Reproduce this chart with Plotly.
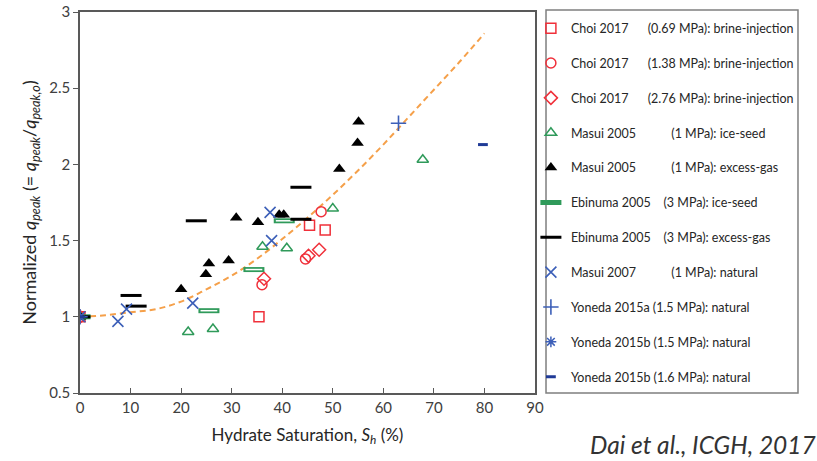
import plotly.graph_objects as go

# ---- data ----
curve_x = [0, 5, 10, 15, 20, 25, 30, 35, 40, 45, 50, 55, 60, 65, 70, 75, 80]
curve_y = [1.00, 1.01, 1.03, 1.05, 1.10, 1.18, 1.27, 1.38, 1.51, 1.65, 1.80, 1.96, 2.13, 2.31, 2.49, 2.67, 2.86]

choi069_x = [0, 35.4, 45.4, 48.5]
choi069_y = [1.0, 1.00, 1.60, 1.57]
choi138_x = [0, 36.0, 44.6, 47.7]
choi138_y = [1.0, 1.21, 1.38, 1.69]
choi276_x = [0, 36.4, 45.2, 47.3]
choi276_y = [1.0, 1.25, 1.40, 1.44]
masui05i_x = [0, 21.4, 26.3, 36.1, 40.9, 50.0, 67.8]
masui05i_y = [1.0, 0.90, 0.92, 1.46, 1.45, 1.71, 2.03]
masui05g_x = [0, 20.0, 24.9, 25.5, 29.4, 30.9, 35.2, 39.4, 40.3, 51.3, 54.9, 55.1]
masui05g_y = [1.0, 1.18, 1.28, 1.35, 1.37, 1.65, 1.62, 1.67, 1.67, 1.97, 2.14, 2.28]
ebi_i_x = [0, 25.5, 34.4, 40.4]
ebi_i_y = [1.0, 1.04, 1.31, 1.63]
ebi_g_x = [0, 10.1, 11.1, 23.0, 43.7, 43.7]
ebi_g_y = [1.0, 1.14, 1.07, 1.63, 1.64, 1.85]
masui07_x = [0, 7.5, 9.2, 22.3, 37.6, 37.9]
masui07_y = [1.0, 0.97, 1.05, 1.09, 1.685, 1.50]
yon15a_x = [0, 63.0]
yon15a_y = [1.0, 2.27]
yon15b15_x = [0]
yon15b15_y = [1.0]
yon15b16_x = [0, 79.7]
yon15b16_y = [1.0, 2.13]

x_ticks = [0, 10, 20, 30, 40, 50, 60, 70, 80, 90]
y_ticks = [0.5, 1, 1.5, 2, 2.5, 3]
y_tick_labels = ["0.5", "1", "1.5", "2", "2.5", "3"]

NB = "\u00a0"
names = [
    "Choi 2017" + NB * 6 + "(0.69 MPa): brine-injection",
    "Choi 2017" + NB * 6 + "(1.38 MPa): brine-injection",
    "Choi 2017" + NB * 6 + "(2.76 MPa): brine-injection",
    "Masui 2005" + NB * 11 + "(1 MPa): ice-seed",
    "Masui 2005" + NB * 11 + "(1 MPa): excess-gas",
    "Ebinuma 2005" + NB * 4 + "(3 MPa): ice-seed",
    "Ebinuma 2005" + NB * 4 + "(3 MPa): excess-gas",
    "Masui 2007" + NB * 11 + "(1 MPa): natural",
    "Yoneda 2015a (1.5 MPa): natural",
    "Yoneda 2015b (1.5 MPa): natural",
    "Yoneda 2015b (1.6 MPa): natural",
]

RED = "#f0303a"
GREEN = "#2f9a5a"
BLUE = "#3c5fb8"
NAVY = "#1f3a96"
BLACK = "#000000"
ORANGE = "#f5a04a"

FONT = "Lato"

fig = go.Figure()

fig.add_trace(go.Scatter(x=curve_x, y=curve_y, mode="lines", line=dict(color=ORANGE, width=2, dash="6px,4px", shape="spline"),
                         showlegend=False, hoverinfo="skip"))

def add(xs, ys, name, symbol, color, size, lw, group, legend=True):
    fig.add_trace(go.Scatter(
        x=xs, y=ys, mode="markers", name=name, legendgroup=group, showlegend=legend,
        marker=dict(symbol=symbol, color=color, size=size, line=dict(color=color, width=lw)),
    ))

add(choi069_x, choi069_y, names[0], "square-open", RED, 10, 1.5, "g0")
add(choi138_x, choi138_y, names[1], "circle-open", RED, 10, 1.5, "g1")
add(choi276_x, choi276_y, names[2], "diamond-open", RED, 10, 1.5, "g2")
add(masui05i_x, masui05i_y, names[3], "triangle-up-open", GREEN, 10, 1.5, "g3")
add(masui05g_x, masui05g_y, names[4], "triangle-up", BLACK, 11, 0, "g4")
add(ebi_i_x, ebi_i_y, names[5], "line-ew", GREEN, 15, 5, "g5")
add(ebi_i_x, ebi_i_y, names[5], "line-ew", "#ffffff", 12, 1.5, "g5", legend=False)
add(ebi_g_x, ebi_g_y, names[6], "line-ew", BLACK, 15, 3, "g6")
add(masui07_x, masui07_y, names[7], "x-thin", BLUE, 11, 1.6, "g7")
add(yon15a_x, yon15a_y, names[8], "cross-thin", BLUE, 11, 1.6, "g8")
add(yon15b15_x, yon15b15_y, names[9], "asterisk", BLUE, 9, 1.5, "g9")
add(yon15b16_x, yon15b16_y, names[10], "line-ew", NAVY, 7, 3, "g10")

fig.update_layout(
    width=817, height=461,
    margin=dict(l=80, r=282, t=12, b=68, autoexpand=False),
    paper_bgcolor="white", plot_bgcolor="white",
    font=dict(family=FONT, size=15, color="#404040"),
    showlegend=True,
    legend=dict(
        x=0.991, y=0.996, xanchor="left", yanchor="top",
        borderwidth=0, bgcolor="rgba(0,0,0,0)",
        font=dict(family=FONT, size=12.5, color="#262626"),
        traceorder="grouped", tracegroupgap=15.6, itemwidth=30,
        maxheight=450,
    ),
    shapes=[dict(type="rect", xref="paper", yref="paper", x0=1.0242, x1=1.578, y0=0.0, y1=1.005,
                 line=dict(color="#7f7f7f", width=1.5), fillcolor="rgba(0,0,0,0)", layer="below")],
    xaxis=dict(
        range=[0, 90], tickvals=x_ticks, ticks="inside", ticklen=5, tickcolor="#595959",
        showline=True, linecolor="#595959", linewidth=1.5, mirror=True, showgrid=False, zeroline=False,
        tickfont=dict(size=15, color="#404040"),
        title=dict(text="Hydrate Saturation, <i>S<sub>h</sub></i> (%)", font=dict(size=17, color="#262626"), standoff=14),
    ),
    yaxis=dict(
        range=[0.5, 3], tickvals=y_ticks, ticktext=y_tick_labels, ticks="outside", ticklen=5, tickcolor="#595959",
        showline=True, linecolor="#595959", linewidth=1.5, mirror=True, showgrid=False, zeroline=False,
        tickfont=dict(size=15, color="#404040"),
        title=dict(text="Normalized <i>q<sub>peak</sub></i> (= <i>q<sub>peak</sub></i>/<i>q<sub>peak,o</sub></i>)",
                   font=dict(size=18, color="#262626"), standoff=8),
    ),
    annotations=[dict(
        text="<i>Dai et al., ICGH, 2017</i>", xref="paper", yref="paper",
        x=1.0, xanchor="right", y=0, yanchor="bottom", xshift=283, yshift=-68,
        showarrow=False, font=dict(family=FONT, size=24.5, color="#333333"),
    )],
)

fig.write_html("out.html")
